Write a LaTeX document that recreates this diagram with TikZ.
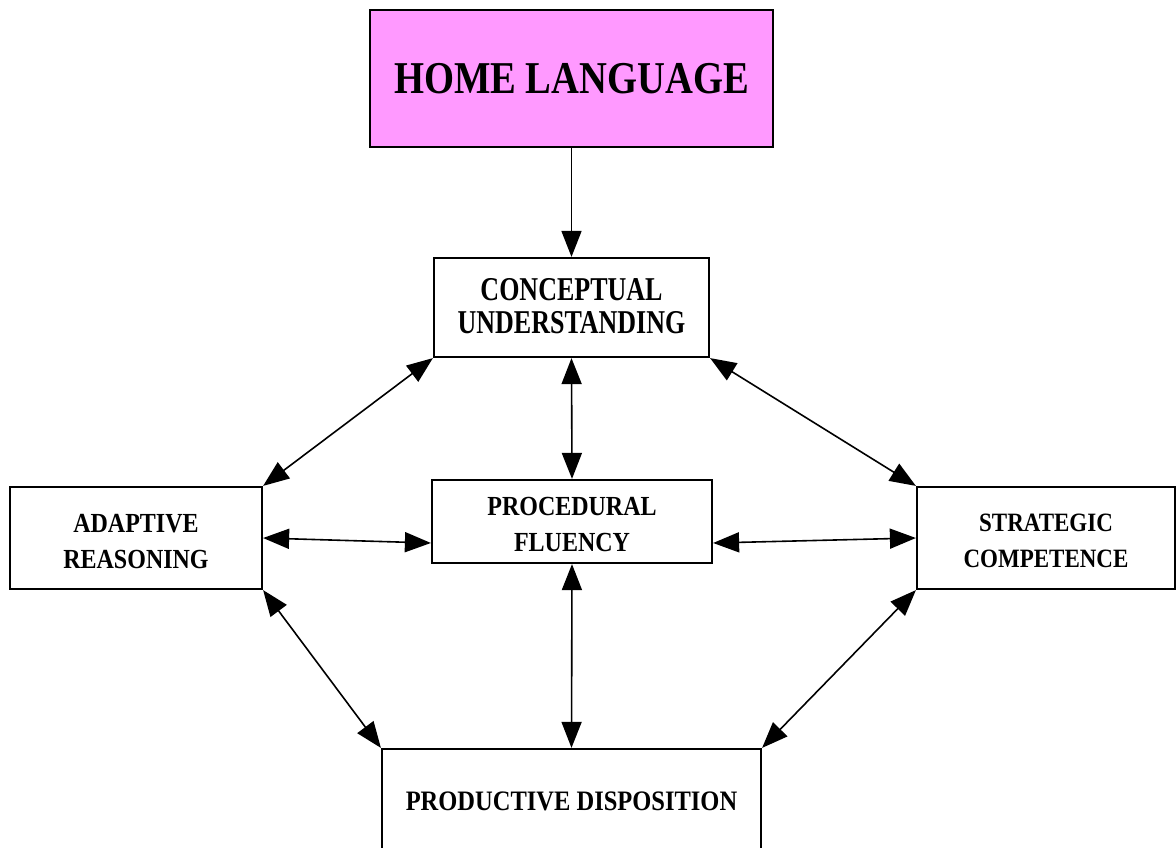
\documentclass[tikz,border=0pt]{standalone}
\usepackage{fontspec}
\usepackage{graphicx}
\setmainfont{Liberation Serif}
\usetikzlibrary{arrows.meta}
\definecolor{homepink}{HTML}{FF99FF}
\newcommand\lbl[5]{{\fontsize{#1}{#2}\selectfont\bfseries\raisebox{-#5}[\height][\depth]{\scalebox{1}[#3]{\begin{tabular}{@{}c@{}}#4\end{tabular}}}}}
\tikzset{
  box/.style={draw=black, line width=2.2pt, fill=white, inner sep=0pt, rectangle},
  link/.style={line width=1.6pt, draw=black, {Triangle[length=26pt,width=20pt]}-{Triangle[length=26pt,width=20pt]}},
  onelink/.style={line width=1.6pt, draw=black, -{Triangle[length=26pt,width=20pt]}}
}
\begin{document}
\begin{tikzpicture}[x=1pt,y=-1pt]
\useasboundingbox (0,0) rectangle (1176,848);
\clip (0,0) rectangle (1176,848);
\fill[white] (0,0) rectangle (1176,848);
\node[box, fill=homepink, minimum width=403pt, minimum height=137pt] (home) at (571.5,78.5) {\lbl{38.6}{46}{1.18}{HOME LANGUAGE}{4pt}};
\node[box, minimum width=275pt, minimum height=99pt] (conc) at (571.5,307.5) {\lbl{26}{25.8}{1.28}{CONCEPTUAL\\UNDERSTANDING}{3pt}};
\node[box, minimum width=252pt, minimum height=102pt] (adapt) at (136,538) {\lbl{24}{31.3}{1.15}{ADAPTIVE\\REASONING}{5pt}};
\node[box, minimum width=280pt, minimum height=83pt] (proc) at (572,521.5) {\lbl{24}{31.3}{1.15}{PROCEDURAL\\FLUENCY}{5pt}};
\node[box, minimum width=258pt, minimum height=102pt] (strat) at (1046,538) {\lbl{23}{31.3}{1.15}{STRATEGIC\\COMPETENCE}{4pt}};
\node[box, minimum width=379pt, minimum height=109pt] (prod) at (571.5,803.5) {\lbl{24.5}{31.3}{1.15}{PRODUCTIVE DISPOSITION}{0pt}};
\draw[onelink] (home.south) -- (conc.north);
\draw[link] (conc.south) -- (proc.north);
\draw[link] (proc.south) -- (prod.north);
\draw[link] (conc.south west) -- (adapt.north east);
\draw[link] (conc.south east) -- (strat.north west);
\draw[link] (adapt.south east) -- (prod.north west);
\draw[link] (strat.south west) -- (prod.north east);
\draw[link] (adapt.east) -- ([yshift=-21.5pt]proc.west);
\draw[link] ([yshift=-21.5pt]proc.east) -- (strat.west);
\end{tikzpicture}
\end{document}
